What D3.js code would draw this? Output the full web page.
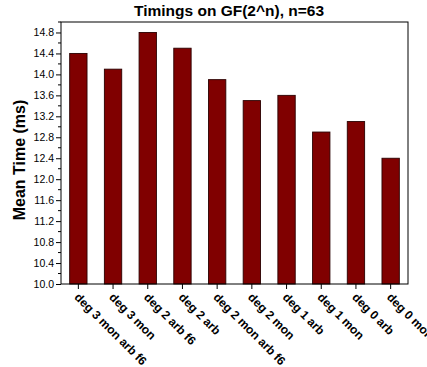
<!DOCTYPE html>
<html>
<head>
<meta charset="utf-8">
<script src="https://cdn.jsdelivr.net/npm/d3@7"></script>
<style>
  html, body { margin: 0; padding: 0; background: #fff; }
  svg { display: block; font-family: "Liberation Sans", Arial, sans-serif; }
</style>
</head>
<body>
<svg id="chart" width="427" height="367"></svg>
<script>
const categories = ["deg 3 mon arb f6", "deg 3 mon", "deg 2 arb f6", "deg 2 arb", "deg 2 mon arb f6",
                    "deg 2 mon", "deg 1 arb", "deg 1 mon", "deg 0 arb", "deg 0 mon"];
const meanTimes = [14.4, 14.1, 14.8, 14.5, 13.9, 13.5, 13.6, 12.9, 13.1, 12.4];
const yTickValues = [10.0, 10.4, 10.8, 11.2, 11.6, 12.0, 12.4, 12.8, 13.2, 13.6, 14.0, 14.4, 14.8];
const titleText = "Timings on GF(2^n), n=63";
const yLabelText = "Mean Time (ms)";

const svg = d3.select("#chart");
const m = { left: 61, right: 408, top: 22, bottom: 284 };

const x = d3.scaleBand().domain(categories).range([m.left, m.right]).paddingInner(0.5).paddingOuter(0.25);
const y = d3.scaleLinear().domain([10, 15]).range([m.bottom, m.top]);

// bars
svg.append("g").selectAll("rect").data(meanTimes).join("rect")
  .attr("x", (d, i) => x(categories[i]))
  .attr("y", d => y(d))
  .attr("width", x.bandwidth())
  .attr("height", d => y(10) - y(d))
  .attr("fill", "#800000")
  .attr("stroke", "#2a0000")
  .attr("stroke-width", 0.9);

// frame
svg.append("rect")
  .attr("x", m.left).attr("y", m.top)
  .attr("width", m.right - m.left).attr("height", m.bottom - m.top)
  .attr("fill", "none").attr("stroke", "#000").attr("stroke-width", 1);

// y axis: major ticks every 0.4, minor ticks between
const minorTicks = d3.range(10.2, 15.0, 0.4).map(v => +v.toFixed(1));
const yAxis = svg.append("g").attr("transform", `translate(${m.left},0)`)
  .call(d3.axisLeft(y).tickValues(yTickValues).tickFormat(d3.format(".1f")).tickSize(5).tickPadding(2));
yAxis.select(".domain").remove();
yAxis.selectAll("text").attr("font-size", 10.5).attr("fill", "#000");
yAxis.selectAll("line").attr("stroke", "#000");
svg.append("g").selectAll("line").data(minorTicks).join("line")
  .attr("x1", m.left - 3).attr("x2", m.left)
  .attr("y1", d => y(d)).attr("y2", d => y(d))
  .attr("stroke", "#000");

// x axis with rotated category labels
const xAxis = svg.append("g").attr("transform", `translate(0,${m.bottom})`)
  .call(d3.axisBottom(x).tickSize(5).tickPadding(0));
xAxis.select(".domain").remove();
xAxis.selectAll("line").attr("stroke", "#000");
xAxis.selectAll("text")
  .attr("font-size", 12).attr("font-weight", "bold").attr("fill", "#000")
  .attr("text-anchor", "start")
  .attr("x", 0).attr("y", 0).attr("dy", "0")
  .attr("transform", "translate(-4.5,14) rotate(45)");

// title
svg.append("text").attr("x", 229).attr("y", 16)
  .attr("text-anchor", "middle").attr("font-size", 15.5).attr("font-weight", "bold")
  .text(titleText);

// y label
svg.append("text")
  .attr("transform", `translate(25,${(m.top + m.bottom) / 2 + 7}) rotate(-90)`)
  .attr("text-anchor", "middle").attr("font-size", 16).attr("font-weight", "bold")
  .text(yLabelText);
</script>
</body>
</html>
